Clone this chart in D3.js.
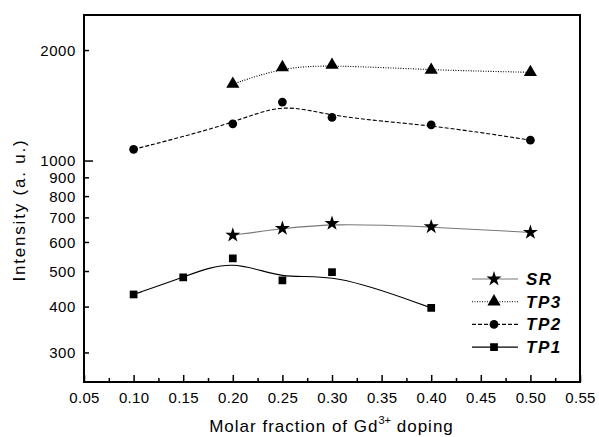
<!DOCTYPE html>
<html>
<head>
<meta charset="utf-8">
<script src="https://cdn.jsdelivr.net/npm/d3@7"></script>
<style>
body{margin:0;background:#fff;}
text{font-family:"Liberation Sans",Arial,sans-serif;}
</style>
</head>
<body>
<div class="chart"></div>
<script>
// values
const xTicks = [0.05,0.10,0.15,0.20,0.25,0.30,0.35,0.40,0.45,0.50,0.55]
const yTicks = [300,400,500,600,700,800,900,1000,2000]

const srX = [0.20,0.25,0.30,0.40,0.50]
const srY = [628,655,676,662,639]
const tp3X = [0.20,0.25,0.30,0.40,0.50]
const tp3Y = [1621,1800,1827,1770,1745]
const tp2X = [0.10,0.20,0.25,0.30,0.40,0.50]
const tp2Y = [1076,1263,1448,1315,1255,1140]
const tp1X = [0.10,0.15,0.20,0.25,0.30,0.40]
const tp1Y = [433,482,543,473,498,398]

const series = [
    {name:"SR", x:srX, y:srY, symbol:d3.symbolStar, size:70, stroke:"#777", dash:null},
    {name:"TP3", x:tp3X, y:tp3Y, symbol:d3.symbolTriangle, size:75, stroke:"#000", dash:"1,1.5"},
    {name:"TP2", x:tp2X, y:tp2Y, symbol:d3.symbolCircle, size:60, stroke:"#000", dash:"4,2"},
    {name:"TP1", x:tp1X, y:tp1Y, symbol:d3.symbolSquare, size:60, stroke:"#000", dash:null}
]

let margin = {top:15, bottom:55, left:84, right:19};
const width = 599 - margin.left - margin.right,
height = 437 - margin.top - margin.bottom;

const svg = d3.select(".chart").append("svg")
    .attr("width", 599)
    .attr("height", 437)
    .append("g")
    .attr("transform", "translate(" + margin.left + "," + margin.top + ")");

let xScale = d3.scaleLinear().domain([0.05,0.55]).range([0,width])
let yScale = d3.scaleLog().domain([250,2500]).range([height,0])

// frame
svg.append("rect")
    .attr("width", width).attr("height", height)
    .attr("fill","none").attr("stroke","#000").attr("stroke-width",2)

// x axis (ticks inward)
const xMinor = d3.range(0.075,0.55,0.05)
svg.append("g")
    .attr("transform", `translate(0, ${height})`)
    .call(d3.axisBottom(xScale).tickValues(xMinor).tickSize(-4).tickFormat(""))
    .call(g => g.select(".domain").remove())
    .call(g => g.selectAll(".tick line").attr("stroke-width",1.5))
svg.append("g")
    .attr("class","axis x-axis")
    .attr("transform", `translate(0, ${height})`)
    .call(d3.axisBottom(xScale).tickValues(xTicks).tickSize(-7).tickPadding(10).tickFormat(d3.format(".2f")))
    .call(g => g.select(".domain").remove())
    .call(g => g.selectAll(".tick line").attr("stroke-width",1.5))
    .call(g => g.selectAll(".tick text").attr("font-size",15).attr("letter-spacing",0.3).attr("font-family","Liberation Sans").attr("fill","#000"))

// y axis (ticks inward)
svg.append("g")
    .attr("class","axis y-axis")
    .call(d3.axisLeft(yScale).tickValues(yTicks).tickSize(0).tickPadding(8).tickFormat(d3.format("d")))
    .call(g => g.select(".domain").remove())
    .call(g => g.selectAll(".tick line").remove())
    .call(g => g.selectAll(".tick text").attr("font-size",15).attr("letter-spacing",0.6).attr("font-family","Liberation Sans").attr("fill","#000"))
svg.append("g").selectAll("line")
    .data(yTicks)
    .enter().append("line")
    .attr("x1",0).attr("x2",d => d===1000 ? 9 : 5)
    .attr("y1",d => yScale(d)).attr("y2",d => yScale(d))
    .attr("stroke","#000").attr("stroke-width",1.5)

// lines and markers
const line = d3.line()
    .x(d => xScale(d[0]))
    .y(d => yScale(d[1]))
    .curve(d3.curveBasis)

series.forEach(s => {
    const pts = s.x.map((v,i) => [v, s.y[i]])
    svg.append("path")
        .datum(pts)
        .attr("d", line)
        .attr("fill","none")
        .attr("stroke", s.stroke)
        .attr("stroke-width", 1.1)
        .attr("stroke-dasharray", s.dash)
    svg.selectAll(null)
        .data(pts)
        .enter().append("path")
        .attr("d", d3.symbol().type(s.symbol).size(s.size))
        .attr("transform", d => `translate(${xScale(d[0])},${yScale(d[1])})`)
        .attr("fill","#000")
})

// legend
const legend = svg.append("g").attr("transform","translate(388,264)")
series.forEach((s,i) => {
    const g = legend.append("g").attr("transform",`translate(0,${i*22.7})`)
    g.append("line")
        .attr("x1",0).attr("x2",46)
        .attr("stroke", s.stroke).attr("stroke-width",1.1)
        .attr("stroke-dasharray", s.dash)
    g.append("path")
        .attr("d", d3.symbol().type(s.symbol).size(s.size))
        .attr("transform","translate(22,0)")
        .attr("fill","#000")
    g.append("text")
        .attr("x",54).attr("y",6)
        .attr("font-size",17)
        .attr("font-weight","bold")
        .attr("font-style","italic")
        .attr("letter-spacing",1.5)
        .text(s.name)
})

// axis titles
const xt = svg.append("text")
    .attr("x", 247.5)
    .attr("y", height + 50)
    .attr("text-anchor","middle")
    .attr("font-size",17)
    .attr("letter-spacing",1)
xt.append("tspan").text("Molar fraction of Gd")
xt.append("tspan").attr("dy",-8).attr("font-size",11).attr("letter-spacing",0).text("3+")
xt.append("tspan").attr("dy",8).text(" doping")

svg.append("text")
    .attr("transform",`translate(-59.5,195) rotate(-90)`)
    .attr("text-anchor","middle")
    .attr("font-size",17)
    .attr("letter-spacing",1.8)
    .text("Intensity (a. u.)")
</script>
</body>
</html>
